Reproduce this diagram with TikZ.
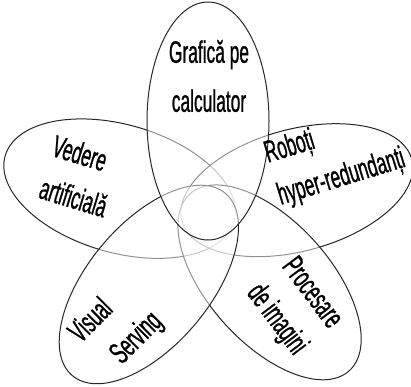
\documentclass[tikz,border=0pt]{standalone}
\usepackage{fontspec}
\setmainfont{Liberation Sans}[FakeStretch=0.56, FakeBold=0.8]
\usetikzlibrary{shapes.geometric}

\begin{document}
\begin{tikzpicture}[x=1pt, y=1pt,
	petal/.style={ellipse, draw=black!85, line width=1pt, fill=white, fill opacity=0.5, minimum width=238pt, minimum height=122pt, inner sep=0pt},
	lbl/.style={font=\fontsize{31}{44}\selectfont, align=left, inner sep=0pt}]
	\useasboundingbox (-208, -172) rectangle (203, 214);

	% petals, back to front
	\node[petal, rotate=164, minimum height=128pt]	(vedere)	at (164:92) {};
	\node[petal, rotate=15]		(roboti)	at (15:92) {};
	\node[petal, rotate=-48]	(procesare)	at (-48:92) {};
	\node[petal, rotate=-130]	(visual)	at (-130:92) {};
	\node[petal, rotate=90]		(grafica)	at (90:93) {};

	% labels
	\node[lbl, align=center, font=\fontsize{31}{49}\selectfont]	(tgrafica)		at (1, 138)		{Grafică pe\\calculator};
	\node[lbl, rotate=-17]											(tvedere)		at (-128, 38)	{Vedere\\artificială};
	\node[lbl, rotate=17]											(troboti)		at (127, 57)	{Roboți\\hyper-redundanți};
	\node[lbl, rotate=-53]											(tprocesare)	at (85.5, -93)	{Procesare\\de imagini};
	\node[lbl, rotate=45]											(tvisual)		at (-91.5, -114)	{Visual\\\hspace{14pt}Serving};
\end{tikzpicture}
\end{document}
